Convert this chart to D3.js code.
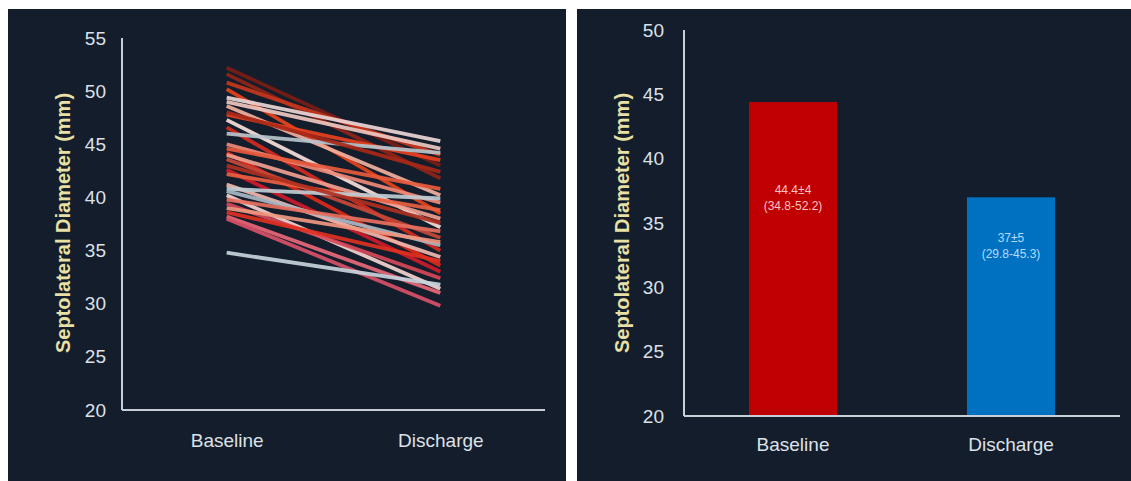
<!DOCTYPE html>
<html>
<head>
<meta charset="utf-8">
<script src="https://cdn.jsdelivr.net/npm/d3@7"></script>
<style>
  body { margin: 0; background: #fff; }
  svg { display: block; font-family: "Liberation Sans", Arial, sans-serif; }
</style>
</head>
<body>
<svg id="chart" width="1131" height="481"></svg>
<script>
// Dades
var categories = ["Baseline", "Discharge"];

// Valors per pacient (mm), llegits del gràfic
var baseline  = [52.2, 51.6, 50.8, 50.2, 49.4, 49.0, 48.6, 47.8, 47.3, 46.6, 46.0, 45.0, 44.6, 44.2, 44.0, 43.6,
                 42.6, 42.2, 41.2, 40.8, 40.6, 40.2, 39.8, 39.4, 39.0, 38.6, 38.2, 38.0, 34.8, 43.0, 48.0];
var discharge = [43.0, 41.8, 44.0, 38.5, 45.3, 44.6, 40.2, 43.5, 37.2, 35.0, 44.2, 39.5, 40.8, 33.6, 38.0, 36.2,
                 33.0, 38.8, 34.4, 39.9, 35.5, 31.4, 36.8, 32.4, 35.8, 34.0, 31.0, 29.8, 31.8, 37.6, 42.4];
var lineColors = ["#7a1c14", "#8f2418", "#c8361c", "#e8431c", "#ecd6d6", "#f0c8c0", "#f2b0a0", "#e84020",
                  "#f8e0dc", "#d62a1e", "#b8c4cc", "#f08a78", "#e85a3c", "#e02818", "#f0a090", "#c84838",
                  "#d01a2a", "#e86040", "#f0b8b0", "#c0ccd4", "#a8b8c4", "#f4d4d0", "#e87060", "#d84858",
                  "#f09880", "#e03020", "#e86878", "#d85068", "#c8d4dc", "#b03020", "#a82818"];

// Barres: mitjana, desviació i rang
var barMeans  = [44.4, 37];
var barLabels = [["44.4±4", "(34.8-52.2)"], ["37±5", "(29.8-45.3)"]];
var barColors = ["#c00000", "#0070c0"];
var barTextColors = ["#f4c4c4", "#b4dcff"];

var leftTicks  = [20, 25, 30, 35, 40, 45, 50, 55];
var rightTicks = [20, 25, 30, 35, 40, 45, 50];

var svg = d3.select("#chart");
var panelColor = "#141d2b";
var axisColor = "#c9ced6";
var textColor = "#dde1e8";
var titleColor = "#e8e0a4";

// Panells de fons
svg.append("rect").attr("x", 8).attr("y", 9).attr("width", 558).attr("height", 472).attr("fill", panelColor);
svg.append("rect").attr("x", 577).attr("y", 9).attr("width", 554).attr("height", 472).attr("fill", panelColor);

// Funció per dibuixar eixos
function drawAxes(g, x, y, ticks, x0, x1, y0, y1, titleX, labelY, pad) {
  var yAxis = d3.axisLeft(y).tickValues(ticks).tickSize(0).tickPadding(pad);
  g.append("g").attr("transform", "translate(" + x0 + ",0)").call(yAxis)
    .call(s => s.select(".domain").remove())
    .selectAll("text").attr("fill", textColor).style("font-size", "19px");

  var xAxis = d3.axisBottom(x).tickSize(0).tickPadding(0);
  g.append("g").attr("transform", "translate(0," + labelY + ")").call(xAxis)
    .call(s => s.select(".domain").remove())
    .selectAll("text").attr("fill", textColor).style("font-size", "19px").attr("dy", "0.35em");

  g.append("line").attr("x1", x0).attr("x2", x0).attr("y1", y1).attr("y2", y0)
    .attr("stroke", axisColor).attr("stroke-width", 2);
  g.append("line").attr("x1", x0).attr("x2", x1).attr("y1", y0).attr("y2", y0)
    .attr("stroke", axisColor).attr("stroke-width", 2);

  g.append("text")
    .attr("transform", "translate(" + titleX + ",223) rotate(-90)")
    .attr("text-anchor", "middle")
    .attr("dy", "0.35em")
    .attr("fill", titleColor)
    .style("font-size", "20px").style("font-weight", "bold")
    .text("Septolateral Diameter (mm)");
}

// Gràfic esquerre: línies per pacient
var gL = svg.append("g");
var xL = d3.scalePoint().domain(categories).range([122, 545]).padding(0.49);
var yL = d3.scaleLinear().domain([20, 55]).range([410, 38]);
drawAxes(gL, xL, yL, leftTicks, 122, 545, 410, 38, 63, 440, 16);

var pairs = baseline.map((b, i) => ({ b: b, d: discharge[i], c: lineColors[i] }));
gL.selectAll(".patient")
  .data(pairs)
  .enter().append("line")
  .attr("class", "patient")
  .attr("x1", xL("Baseline")).attr("x2", xL("Discharge"))
  .attr("y1", d => yL(d.b)).attr("y2", d => yL(d.d))
  .attr("stroke", d => d.c)
  .attr("stroke-width", 3.8)
  .attr("stroke-opacity", 0.92);

// Gràfic dret: barres
var gR = svg.append("g");
var xR = d3.scaleBand().domain(categories).range([684, 1120]).paddingInner(0.596).paddingOuter(0.298);
var yR = d3.scaleLinear().domain([20, 50]).range([416, 30]);

gR.selectAll(".bar")
  .data(categories)
  .enter().append("rect")
  .attr("class", "bar")
  .attr("x", d => xR(d))
  .attr("width", xR.bandwidth())
  .attr("y", (d, i) => yR(barMeans[i]))
  .attr("height", (d, i) => yR(20) - yR(barMeans[i]))
  .attr("fill", (d, i) => barColors[i]);

drawAxes(gR, xR, yR, rightTicks, 684, 1120, 416, 30, 622, 444, 20);

// Etiquetes dins les barres
categories.forEach(function(c, i) {
  var cx = xR(c) + xR.bandwidth() / 2;
  var ty = yR(barMeans[i]) + (i === 0 ? 92 : 45);
  var t = gR.append("text").attr("text-anchor", "middle").attr("fill", barTextColors[i])
    .style("font-size", "12px");
  barLabels[i].forEach(function(s, k) {
    t.append("tspan").attr("x", cx).attr("y", ty + k * 16).text(s);
  });
});
</script>
</body>
</html>
